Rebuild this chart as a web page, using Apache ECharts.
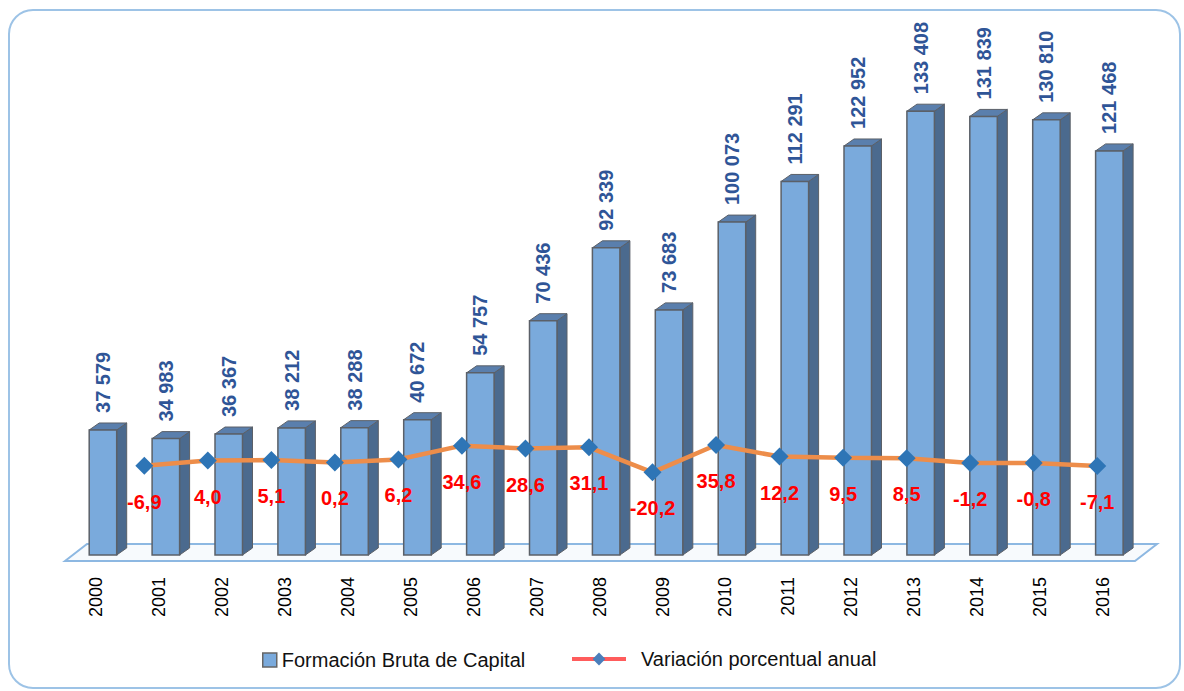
<!DOCTYPE html>
<html>
<head>
<meta charset="utf-8">
<script src="https://cdn.jsdelivr.net/npm/echarts@6/dist/echarts.min.js"></script>
<style>
html,body{margin:0;padding:0;background:#fff;}
#chart{width:1184px;height:691px;}
</style>
</head>
<body>
<div id="chart"></div>
<script>
var years = ['2000','2001','2002','2003','2004','2005','2006','2007','2008','2009','2010','2011','2012','2013','2014','2015','2016'];
var capital = [37579, 34983, 36367, 38212, 38288, 40672, 54757, 70436, 92339, 73683, 100073, 112291, 122952, 133408, 131839, 130810, 121468];
var variation = [null, -6.9, 4.0, 5.1, 0.2, 6.2, 34.6, 28.6, 31.1, -20.2, 35.8, 12.2, 9.5, 8.5, -1.2, -0.8, -7.1];
var barName = 'Formación Bruta de Capital';
var lineName = 'Variación porcentual anual';

function fmtThousands(v){ return String(v).replace(/\B(?=(\d{3})+(?!\d))/g, ' '); }
function fmtPct(v){ return v.toFixed(1).replace('.', ','); }

var barData = capital.map(function(v, i){ return [i, v]; });
var lineData = variation.map(function(v){ return v === null ? '-' : v; });

var chart = echarts.init(document.getElementById('chart'), null, {renderer:'svg'});

var option = {
  backgroundColor: '#ffffff',
  animation: false,
  graphic: [
    {type:'rect', z:-10, shape:{x:9, y:10, width:1171, height:678, r:24}, style:{fill:'#ffffff', stroke:'#9DC3E6', lineWidth:2}},
    {type:'polygon', z:-5, shape:{points:[[65,561],[87,544],[1157,544],[1135,561]]}, style:{fill:'#F7FAFD', stroke:'#8DB8E2', lineWidth:2}}
  ],
  legend: [
    {
      data:[{name: barName, icon:'rect', itemStyle:{color:'#7AAADC', borderColor:'#666666', borderWidth:1.5}}],
      left: 257, top: 645, itemWidth: 14, itemHeight: 14,
      textStyle:{fontFamily:'"Liberation Sans", Arial, sans-serif', fontSize:20, color:'#111'}
    },
    {
      data:[{name: lineName, itemStyle:{color:'#4A7EBB'}, lineStyle:{color:'#FF5C5C', width:4}}],
      left: 565, top: 644, itemWidth: 54, itemHeight: 16,
      textStyle:{fontFamily:'"Liberation Sans", Arial, sans-serif', fontSize:20, color:'#111', padding:[0,0,0,10]}
    }
  ],
  grid: [
    {left: 65, width: 1069.3, top: 56, height: 499},
    {left: 49, width: 1080, top: 413.75, height: 97.5}
  ],
  xAxis: [
    {
      type:'category', gridIndex:0, data: years, boundaryGap: true,
      axisLine:{show:false}, axisTick:{show:false},
      axisLabel:{rotate:90, margin:22, color:'#000', fontSize:18, fontFamily:'"Liberation Sans", Arial, sans-serif', interval:0}
    },
    {
      type:'category', gridIndex:1, data: years, boundaryGap: true, show:false
    }
  ],
  yAxis: [
    {type:'value', gridIndex:0, min:0, max:150000, show:false, splitLine:{show:false}},
    {type:'value', gridIndex:1, min:-100, max:100, show:false, splitLine:{show:false}}
  ],
  series: [
    {
      name: barName,
      type: 'custom',
      xAxisIndex:0, yAxisIndex:0,
      z: 2,
      encode: {x:0, y:1},
      data: barData,
      renderItem: function(params, api){
        var idx = api.value(0), v = api.value(1);
        var top = api.coord([idx, v]);
        var base = api.coord([idx, 0]);
        var cx = top[0] + 6.5, w = 27.5, dx = 10, dy = 7;
        var l = cx - w/2, r = cx + w/2, t = top[1], b = base[1];
        return {
          type:'group',
          children:[
            {type:'polygon', shape:{points:[[r,t],[r+dx,t-dy],[r+dx,b-dy],[r,b]]}, style:{fill:'#4B6A8E', stroke:'#5B6068', lineWidth:1}},
            {type:'polygon', shape:{points:[[l,t],[l+dx,t-dy],[r+dx,t-dy],[r,t]]}, style:{fill:'#5A7FAD', stroke:'#5B6068', lineWidth:1}},
            {type:'rect', shape:{x:l, y:t, width:w, height:b-t}, style:{fill:'#7AAADC', stroke:'#5B6068', lineWidth:1.5}},
            {type:'text', x:cx, y:t-17, rotation:Math.PI/2,
             style:{text: fmtThousands(v), fill:'#2F5597', font:'bold 20px "Liberation Sans", Arial, sans-serif', align:'left', verticalAlign:'middle'}}
          ]
        };
      }
    },
    {
      name: lineName,
      type: 'line',
      xAxisIndex:1, yAxisIndex:1,
      z: 5,
      data: lineData,
      symbol: 'diamond',
      symbolSize: 18,
      showAllSymbol: true,
      lineStyle:{color:'#ED8D4A', width:4.5},
      itemStyle:{color:'#2E75B6'},
      label:{
        show:true, position:'bottom', distance:17,
        color:'#FF0000', fontWeight:'bold', fontSize:20,
        fontFamily:'"Liberation Sans", Arial, sans-serif',
        formatter:function(p){ return fmtPct(p.value); }
      }
    }
  ]
};
chart.setOption(option);
</script>
</body>
</html>
